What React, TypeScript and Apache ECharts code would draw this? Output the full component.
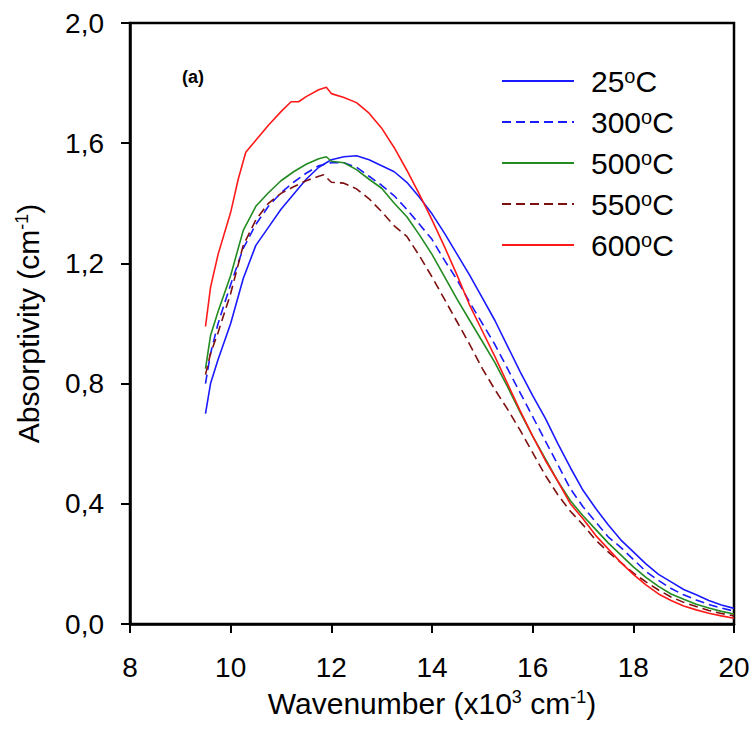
import React, { useEffect, useRef } from "react";
import * as echarts from "echarts";

const seriesNames = ["25{sup|o}C", "300{sup|o}C", "500{sup|o}C", "550{sup|o}C", "600{sup|o}C"];
const seriesLabels = ["25°C", "300°C", "500°C", "550°C", "600°C"];

const s25: [number, number][] = [
  [9.5, 0.70], [9.6, 0.8], [9.75, 0.88], [10, 1.0], [10.25, 1.15], [10.5, 1.26], [10.75, 1.32], [11, 1.38],
  [11.25, 1.43], [11.5, 1.48], [11.75, 1.52], [12, 1.545], [12.25, 1.555], [12.5, 1.558], [12.75, 1.545],
  [13, 1.525], [13.25, 1.505], [13.5, 1.47], [13.75, 1.42], [14, 1.365], [14.25, 1.3], [14.5, 1.23],
  [14.75, 1.16], [15, 1.085], [15.25, 1.01], [15.5, 0.925], [15.75, 0.84], [16, 0.76], [16.25, 0.685],
  [16.5, 0.6], [16.75, 0.52], [17, 0.445], [17.25, 0.385], [17.5, 0.33], [17.75, 0.28], [18, 0.24],
  [18.25, 0.2], [18.5, 0.165], [18.75, 0.14], [19, 0.115], [19.25, 0.097], [19.5, 0.078], [19.75, 0.063],
  [20, 0.052],
];

const s300: [number, number][] = [
  [9.5, 0.8], [9.6, 0.9], [9.75, 1.0], [10, 1.13], [10.25, 1.25], [10.5, 1.33], [10.75, 1.39], [11, 1.435],
  [11.25, 1.47], [11.5, 1.5], [11.75, 1.525], [12, 1.535], [12.25, 1.535], [12.5, 1.52], [12.75, 1.49],
  [13, 1.46], [13.25, 1.425], [13.5, 1.38], [13.75, 1.33], [14, 1.28], [14.25, 1.21], [14.5, 1.145],
  [14.75, 1.07], [15, 1.0], [15.25, 0.93], [15.5, 0.85], [15.75, 0.77], [16, 0.69], [16.25, 0.61],
  [16.5, 0.53], [16.75, 0.45], [17, 0.39], [17.25, 0.34], [17.5, 0.29], [17.75, 0.255], [18, 0.215],
  [18.25, 0.175], [18.5, 0.145], [18.75, 0.118], [19, 0.097], [19.25, 0.08], [19.5, 0.065], [19.75, 0.053],
  [20, 0.043],
];

const s500: [number, number][] = [
  [9.5, 0.85], [9.6, 0.96], [9.75, 1.04], [10, 1.16], [10.25, 1.31], [10.5, 1.39], [10.75, 1.435],
  [11, 1.475], [11.25, 1.505], [11.5, 1.53], [11.75, 1.548], [11.9, 1.555], [12, 1.54], [12.25, 1.535],
  [12.5, 1.512], [12.75, 1.48], [13, 1.45], [13.25, 1.4], [13.5, 1.355], [13.75, 1.295], [14, 1.23],
  [14.25, 1.155], [14.5, 1.08], [14.75, 1.01], [15, 0.94], [15.25, 0.87], [15.5, 0.79], [15.75, 0.705],
  [16, 0.625], [16.25, 0.55], [16.5, 0.475], [16.75, 0.41], [17, 0.36], [17.25, 0.315], [17.5, 0.27],
  [17.75, 0.23], [18, 0.19], [18.25, 0.155], [18.5, 0.125], [18.75, 0.1], [19, 0.082], [19.25, 0.066],
  [19.5, 0.053], [19.75, 0.042], [20, 0.033],
];

const s550: [number, number][] = [
  [9.5, 0.83], [9.6, 0.9], [9.75, 0.97], [10, 1.1], [10.25, 1.26], [10.5, 1.345], [10.75, 1.4], [11, 1.433],
  [11.25, 1.455], [11.5, 1.475], [11.75, 1.49], [11.85, 1.495], [12, 1.47], [12.25, 1.467], [12.5, 1.448],
  [12.75, 1.415], [13, 1.372], [13.25, 1.325], [13.5, 1.29], [13.75, 1.225], [14, 1.155], [14.25, 1.08],
  [14.5, 1.005], [14.75, 0.93], [15, 0.85], [15.25, 0.78], [15.5, 0.715], [15.75, 0.645], [16, 0.57],
  [16.25, 0.495], [16.5, 0.43], [16.75, 0.375], [17, 0.33], [17.25, 0.28], [17.5, 0.24], [17.75, 0.205],
  [18, 0.17], [18.25, 0.14], [18.5, 0.113], [18.75, 0.09], [19, 0.072], [19.25, 0.058], [19.5, 0.045],
  [19.75, 0.035], [20, 0.027],
];

const s600: [number, number][] = [
  [9.5, 0.99], [9.6, 1.12], [9.75, 1.23], [10, 1.37], [10.15, 1.48], [10.3, 1.57], [10.5, 1.61],
  [10.75, 1.66], [11, 1.705], [11.2, 1.738], [11.35, 1.738], [11.5, 1.755], [11.75, 1.778], [11.9, 1.786],
  [12, 1.765], [12.25, 1.752], [12.5, 1.735], [12.75, 1.7], [13, 1.65], [13.25, 1.585], [13.5, 1.51],
  [13.75, 1.43], [14, 1.345], [14.25, 1.255], [14.5, 1.16], [14.75, 1.06], [15, 0.975], [15.25, 0.89],
  [15.5, 0.8], [15.75, 0.71], [16, 0.625], [16.25, 0.545], [16.5, 0.475], [16.75, 0.4], [17, 0.35],
  [17.25, 0.295], [17.5, 0.25], [17.75, 0.205], [18, 0.165], [18.25, 0.13], [18.5, 0.1], [18.75, 0.078],
  [19, 0.06], [19.25, 0.047], [19.5, 0.036], [19.75, 0.027], [20, 0.019],
];

const seriesData = [s25, s300, s500, s550, s600];
const seriesColors = ["#1a1aff", "#1a1aff", "#228b22", "#7f1010", "#ff1a1a"];
const seriesDashed = [false, true, false, true, false];

const FONT = "Liberation Sans, Arial, sans-serif";

export default function App() {
  const ref = useRef<HTMLDivElement>(null);
  useEffect(() => {
    if (!ref.current) return;
    const chart = echarts.init(ref.current, null, { renderer: "svg" });
    const supStyle = { fontSize: 18, verticalAlign: "top", color: "#000", fontFamily: FONT };
    const option = {
      animation: false,
      backgroundColor: "#ffffff",
      textStyle: { fontFamily: FONT },
      title: {
        text: "(a)",
        left: 177,
        top: 63,
        textStyle: { fontSize: 18, fontWeight: "bold", color: "#000", fontFamily: FONT },
      },
      grid: {
        left: 130,
        right: 21,
        top: 23,
        bottom: 114,
        show: true,
        borderColor: "#000",
        borderWidth: 2.5,
        backgroundColor: "transparent",
      },
      legend: {
        orient: "vertical",
        left: 501,
        top: 66,
        padding: 0,
        itemWidth: 72,
        itemHeight: 14,
        itemGap: 11,
        itemStyle: { opacity: 0 },
        data: seriesNames.map((n) => ({ name: n })),
        formatter: (n: string) => n,
        textStyle: {
          fontSize: 30,
          color: "#000",
          fontFamily: FONT,
          padding: [0, 0, 0, 12],
          rich: {
            sup: { ...supStyle, fontSize: 20 },
          },
        },
      },
      xAxis: {
        type: "value",
        min: 8,
        max: 20,
        interval: 2,
        name: "Wavenumber (x10{sup|3} cm{sup|-1})",
        nameLocation: "middle",
        nameGap: 64,
        nameTextStyle: {
          fontSize: 30,
          color: "#000",
          fontFamily: FONT,
          rich: { sup: supStyle },
        },
        axisLine: { lineStyle: { color: "#000", width: 2.5 } },
        axisTick: { inside: false, length: 9, lineStyle: { color: "#000", width: 2 } },
        axisLabel: { fontSize: 28, color: "#000", margin: 29, fontFamily: FONT },
        splitLine: { show: false },
      },
      yAxis: {
        type: "value",
        min: 0,
        max: 2,
        interval: 0.4,
        name: "Absorptivity (cm{sup|-1})",
        nameLocation: "middle",
        nameGap: 87,
        nameTextStyle: {
          fontSize: 30,
          color: "#000",
          fontFamily: FONT,
          rich: { sup: supStyle },
        },
        axisLine: { lineStyle: { color: "#000", width: 2.5 } },
        axisTick: { inside: false, length: 9, lineStyle: { color: "#000", width: 2 } },
        axisLabel: {
          fontSize: 28,
          color: "#000",
          margin: 26,
          fontFamily: FONT,
          formatter: (v: number) => v.toFixed(1).replace(".", ","),
        },
        splitLine: { show: false },
      },
      series: seriesData.map((d, i) => ({
        name: seriesNames[i],
        type: "line",
        data: d,
        symbol: "none",
        showSymbol: false,
        smooth: false,
        color: seriesColors[i],
        lineStyle: {
          color: seriesColors[i],
          width: 1.6,
          type: seriesDashed[i] ? [9, 5] : "solid",
        },
      })),
    };
    chart.setOption(option);
    return () => chart.dispose();
  }, []);
  return (
    <div
      ref={ref}
      aria-label={seriesLabels.join(", ")}
      style={{ position: "fixed", left: 0, top: 0, width: 755, height: 738, background: "#fff" }}
    />
  );
}
